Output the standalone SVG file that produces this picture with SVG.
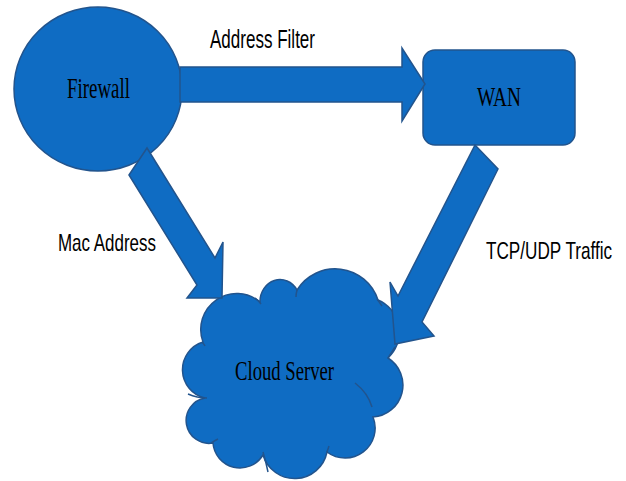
<svg xmlns="http://www.w3.org/2000/svg" width="626" height="481" viewBox="0 0 626 481">
  <style>
    .shape { fill: #0F6CC3; stroke: #22548D; stroke-width: 1.5; stroke-linejoin: miter; }
    .inner { fill: none; stroke: #22548D; stroke-width: 1.5; }
    .serif { font-family: "Liberation Serif", "Times New Roman", serif; fill: #000; }
    .sans { font-family: "Liberation Sans", Arial, sans-serif; fill: #000; }
  </style>
  <rect width="626" height="481" fill="#FFFFFF"/>

  <g id="firewall">
    <ellipse class="shape" cx="98" cy="89" rx="84" ry="82"/>
    <text class="serif" x="67" y="98" font-size="29" textLength="63" lengthAdjust="spacingAndGlyphs">Firewall</text>
  </g>

  <g id="wan">
    <rect class="shape" x="423" y="50" width="152" height="95" rx="12" ry="12"/>
    <text class="serif" x="477" y="106" font-size="28" textLength="44" lengthAdjust="spacingAndGlyphs">WAN</text>
  </g>

  <g id="cloud-server">
    <path class="shape" d="M203,342 A36,36 0 0 1 260,302 A20,22 0 0 1 297,290 A45,45 0 0 1 378,300 A35,35 0 0 1 388,358 A32,32 0 0 1 373,417 A30,30 0 0 1 327,452 A33,33 0 0 1 263,455 A27,27 0 0 1 213,443 A22,22 0 0 1 205,398 A29,29 0 0 1 203,342 Z"/>
    <path class="inner" d="M188,394 Q197,398 207,398"/>
    <path class="inner" d="M211,443 Q214,441 218,439"/>
    <path class="inner" d="M263,452 Q266,462 268,472"/>
    <path class="inner" d="M327,452 Q328,449 329,446"/>
    <path class="inner" d="M355,383 Q368,393 372,407"/>
    <path class="inner" d="M388,358 Q392,352 395,347"/>
    <path class="inner" d="M377,299 Q380,303 382,306"/>
    <path class="inner" d="M297,290 Q296,294 296,297"/>
    <path class="inner" d="M255,298 Q258,300 261,304"/>
    <path class="inner" d="M202,342 Q204,344 205,346"/>
    <text class="serif" x="235" y="380" font-size="27" textLength="99" lengthAdjust="spacingAndGlyphs">Cloud Server</text>
  </g>

  <g id="connectors">
    <polygon class="shape" points="180,67 402,67 402,48 425,84 402,121 402,102 180,102"/>
    <polygon class="shape" points="129,175 147,148 215,258 223,242 222,298 187,298 197,285"/>
    <polygon class="shape" points="475,145 498,169 422,322 434,336 395,344 390,282 398,296"/>
    <text class="sans" x="210" y="48" font-size="26" textLength="105" lengthAdjust="spacingAndGlyphs">Address Filter</text>
    <text class="sans" x="58" y="251" font-size="24" textLength="98" lengthAdjust="spacingAndGlyphs">Mac Address</text>
    <text class="sans" x="0" y="0" font-size="24" transform="translate(486,259) scale(0.715,1)">TCP/UDP Traffic</text>
  </g>
</svg>
